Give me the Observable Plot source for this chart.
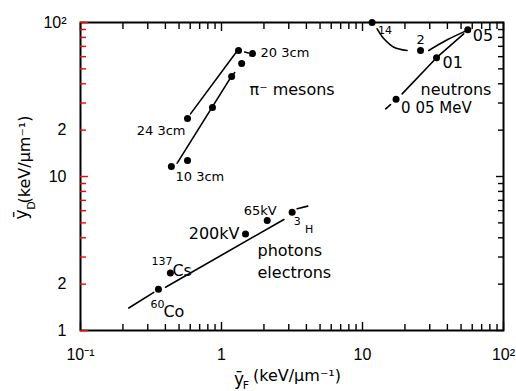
<!DOCTYPE html>
<html>
<head>
<meta charset="utf-8">
<script src="https://cdn.jsdelivr.net/npm/d3@7"></script>
<script src="https://cdn.jsdelivr.net/npm/@observablehq/plot@0.6"></script>
<style>
  html, body { margin: 0; padding: 0; background: #fff; }
  #chart svg { display: block; }
</style>
</head>
<body>
<div id="chart"></div>
<script>
// Mean lineal energy: dose-mean (yD) against frequency-mean (yF), keV/µm

// π⁻ mesons at three depths
const pionYF = [1.32, 1.66, 1.39, 1.18, 0.863, 0.574, 0.441, 0.574];
const pionYD = [65.8, 62.9, 54.2, 44.6, 28.1, 23.8, 11.6, 12.7];

// neutrons, energies 14, 2, 0.5, 0.1, 0.05 MeV
const neutronYF = [11.7, 25.8, 55.8, 33.5, 17.3];
const neutronYD = [100, 65.8, 89.6, 59.0, 31.8];

// photons and electrons: 60Co, 137Cs, 200 kV, 65 kV, 3H
const photonYF = [0.357, 0.434, 1.48, 2.11, 3.17];
const photonYD = [1.85, 2.36, 4.24, 5.18, 5.87];

// guide lines (yF, yD)
const pionLineA = [[0.603, 25.5], [1.31, 66.5]];
const pionDashA = [[1.46, 64.3], [1.55, 63.4]];
const pionLineB = [[0.485, 12.2], [1.14, 42.7]];
const pionDashB = [[1.18, 44.6], [1.39, 54.2], [1.66, 62.9]];
const neutronArc = [[12.7, 91.0], [14.2, 78.4], [16.7, 69.1], [20.7, 65.8]];
const neutronRise = [[29.5, 65.8], [39.9, 77.2], [53.7, 87.9]];
const neutronLine1 = [[34.8, 61.0], [52.2, 84.4]];
const neutronLine2 = [[19.1, 34.4], [32.1, 56.6]];
const neutronTail = [[14.6, 27.5], [15.8, 29.3]];
const photonLine1 = [[0.220, 1.40], [0.331, 1.77]];
const photonLine2 = [[0.401, 1.91], [2.77, 5.26]];
const photonTail = [[3.44, 6.17], [4.09, 6.42]];

// axis ticks and their labels
const xTickValues = [0.1, 0.2, 0.5, 1, 2, 5, 10, 20, 50, 100];
const xTickLabels = ["10⁻¹", "2", "5", "1", "2", "5", "10", "2", "5", "10²"];
const yTickValues = [1, 2, 5, 10, 20, 50, 100];
const yTickLabels = ["1", "2", "5", "10", "2", "5", "10²"];

const xLabelOf = new Map(xTickValues.map((v, i) => [v, xTickLabels[i]]));
const yLabelOf = new Map(yTickValues.map((v, i) => [v, yTickLabels[i]]));

const xTicks = d3.scaleLog().domain([0.1, 100]).ticks();
const yTicks = d3.scaleLog().domain([1, 100]).ticks();
const isDecade = (v) => Math.abs(Math.log10(v) - Math.round(Math.log10(v))) < 1e-9;
const xMajor = xTicks.filter(isDecade), xMinor = xTicks.filter(v => !isDecade(v));
const yMajor = yTicks.filter(isDecade), yMinor = yTicks.filter(v => !isDecade(v));

const pions = pionYF.map((x, i) => ({x, y: pionYD[i]}));
const neutrons = neutronYF.map((x, i) => ({x, y: neutronYD[i]}));
const photons = photonYF.map((x, i) => ({x, y: photonYD[i]}));

const seg = (pts, opts = {}) =>
  Plot.line(pts, {x: d => d[0], y: d => d[1], stroke: "black", strokeWidth: 1.6, ...opts});

// a label hung off one data point
const lab = (pt, text, opts) =>
  Plot.text([pt], {x: "x", y: "y", text: () => text, fill: "black", lineAnchor: "middle", ...opts});

// inward tick marks on all four sides (negative tick size points into the frame)
const tickMarks = [];
for (const [vals, len] of [[xMajor, 8], [xMinor, 6]]) {
  tickMarks.push(Plot.axisX(vals, {anchor: "bottom", tickSize: -len, text: null, label: null, strokeWidth: 1.4}));
  tickMarks.push(Plot.axisX(vals, {anchor: "top", tickSize: -len, text: null, label: null, strokeWidth: 1.4}));
}
for (const [vals, len] of [[yMajor, 8], [yMinor, 6]]) {
  tickMarks.push(Plot.axisY(vals, {anchor: "left", tickSize: -len, text: null, label: null, strokeWidth: 1.4, stroke: "red"}));
  tickMarks.push(Plot.axisY(vals, {anchor: "right", tickSize: -len, text: null, label: null, strokeWidth: 1.4}));
}

const axisTitle = (text, opts) =>
  Plot.text([0], {text: () => text, textAnchor: "middle", lineAnchor: "middle", fill: "black", ...opts});

const chart = Plot.plot({
  width: 516,
  height: 391,
  marginTop: 22,
  marginRight: 13,
  marginBottom: 61,
  marginLeft: 80,
  style: {fontFamily: "'DejaVu Sans', sans-serif", fontSize: "16px", background: "#fff", color: "black", overflow: "visible"},
  x: {type: "log", domain: [0.1, 100]},
  y: {type: "log", domain: [1, 100]},
  marks: [
    Plot.frame({stroke: "black", fill: "none", strokeWidth: 2}),
    Plot.axisX(xTickValues, {tickSize: 0, tickPadding: 18, tickFormat: d => xLabelOf.get(d), label: null, fontSize: 16, fontFamily: "'Liberation Sans', sans-serif"}),
    Plot.axisY(yTickValues, {tickSize: 0, tickPadding: 14, tickFormat: d => yLabelOf.get(d), label: null, fontSize: 16, fontFamily: "'Liberation Sans', sans-serif"}),

    // axis titles
    axisTitle("(keV/μm⁻¹)", {frameAnchor: "bottom", textAnchor: "start", dx: -39, dy: 45, fontSize: 16}),
    axisTitle("ȳ", {frameAnchor: "bottom", dx: -53, dy: 49, fontSize: 17}),
    axisTitle("F", {frameAnchor: "bottom", dx: -46, dy: 55, fontSize: 11}),
    axisTitle("(keV/μm⁻¹)", {frameAnchor: "left", rotate: -90, dx: -56, dy: -17, fontSize: 16}),
    axisTitle("ȳ", {frameAnchor: "left", rotate: -90, dx: -59, dy: 38, fontSize: 17}),
    axisTitle("D", {frameAnchor: "left", rotate: -90, dx: -49, dy: 29, fontSize: 11}),

    // guide lines
    seg(pionLineA), seg(pionDashA), seg(pionLineB),
    seg(pionDashB, {strokeDasharray: "5,9"}),
    seg(neutronArc, {curve: "catmull-rom"}),
    seg(neutronRise, {curve: "catmull-rom"}),
    seg(neutronLine1), seg(neutronLine2), seg(neutronTail),
    seg(photonLine1), seg(photonLine2), seg(photonTail),

    // measured points
    Plot.dot([...pions, ...neutrons, ...photons], {x: "x", y: "y", r: 3.5, fill: "black", stroke: "none"}),

    // π⁻ meson labels
    lab(pions[1], "20 3cm", {dx: 8, dy: -1, textAnchor: "start", fontSize: 13}),
    lab(pions[5], "24 3cm", {dx: -2, dy: 12, textAnchor: "end", fontSize: 13}),
    lab(pions[7], "10 3cm", {dx: -12, dy: 16, textAnchor: "start", fontSize: 13}),
    Plot.text([{x: 1.58, y: 36.7}], {x: "x", y: "y", text: () => "π⁻ mesons", textAnchor: "start", fontSize: 16}),

    // neutron labels
    lab(neutrons[0], "14", {dx: 6, dy: 8, textAnchor: "start", fontSize: 11}),
    lab(neutrons[1], "2", {dx: 0, dy: -11, fontSize: 13}),
    lab(neutrons[2], "05", {dx: 5, dy: 6, textAnchor: "start", fontSize: 16}),
    lab(neutrons[3], "01", {dx: 6, dy: 5, textAnchor: "start", fontSize: 16}),
    lab(neutrons[4], "0 05 MeV", {dx: 5, dy: 9, textAnchor: "start", fontSize: 15}),
    Plot.text([{x: 25.8, y: 36.7}], {x: "x", y: "y", text: () => "neutrons", textAnchor: "start", fontSize: 16}),

    // photon / electron labels
    lab(photons[0], "60", {dx: -8, dy: 15, textAnchor: "start", fontSize: 11}),
    lab(photons[0], "Co", {dx: 5, dy: 23, textAnchor: "start", fontSize: 16}),
    lab(photons[1], "137", {dx: 2, dy: -12, textAnchor: "end", fontSize: 11}),
    lab(photons[1], "Cs", {dx: 2, dy: -2, textAnchor: "start", fontSize: 16}),
    lab(photons[2], "200kV", {dx: -6, dy: 0, textAnchor: "end", fontSize: 16}),
    lab(photons[3], "65kV", {dx: -7, dy: -10, fontSize: 13}),
    lab(photons[4], "3", {dx: 5, dy: 9, fontSize: 11}),
    lab(photons[4], "H", {dx: 17, dy: 17, fontSize: 11}),
    Plot.text([{x: 1.80, y: 3.31}], {x: "x", y: "y", text: () => "photons", textAnchor: "start", fontSize: 16}),
    Plot.text([{x: 1.80, y: 2.35}], {x: "x", y: "y", text: () => "electrons", textAnchor: "start", fontSize: 16}),

    // frame ticks on top of everything
    ...tickMarks
  ]
});

document.getElementById("chart").appendChild(chart);
</script>
</body>
</html>
